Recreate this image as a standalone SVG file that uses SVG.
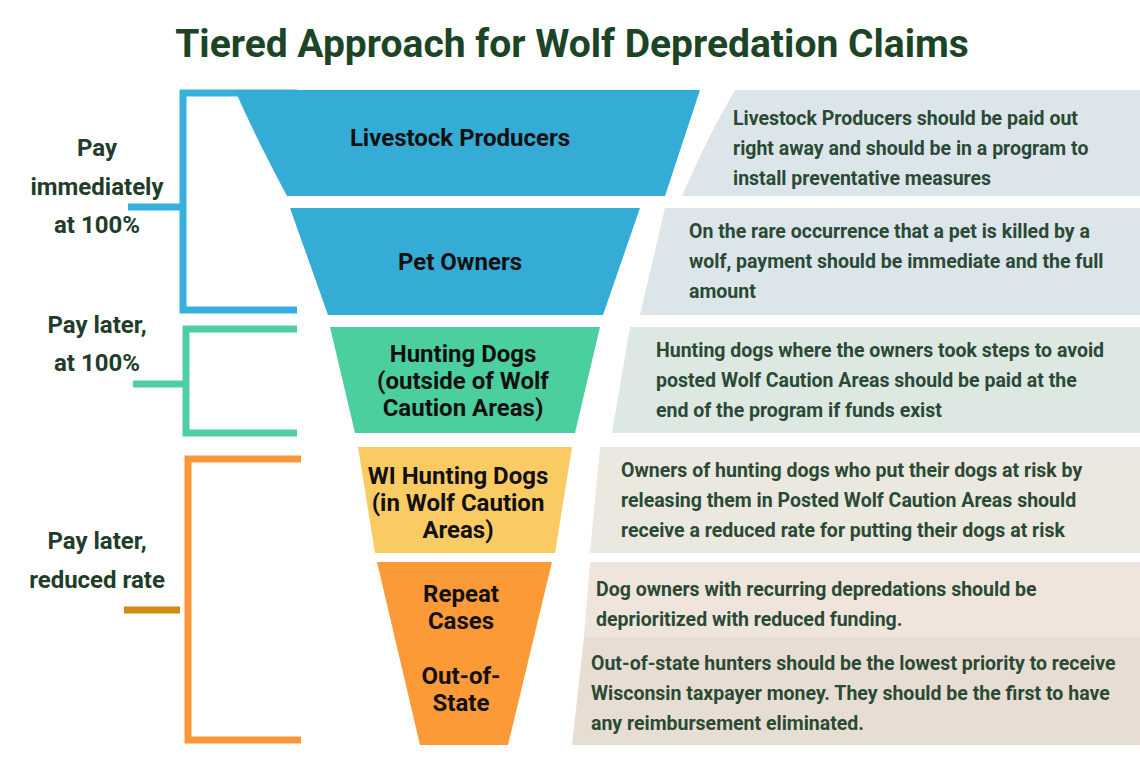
<svg xmlns="http://www.w3.org/2000/svg" width="1140" height="760" viewBox="0 0 1140 760">
<style>
.t{font-family:Roboto,"Liberation Sans",sans-serif;font-weight:700}
.title{font-size:39px;fill:#1b4526}
.lab{font-size:24px;fill:#1f3d2a;text-anchor:middle}
.fl{font-size:24px;fill:#111;text-anchor:middle}
.d{font-size:19.5px;fill:#2a4a35}
.br{fill:none;stroke-width:7}
</style>
<rect width="1140" height="760" fill="#fff"/>
<text class="t title" x="572" y="57" text-anchor="middle">Tiered Approach for Wolf Depredation Claims</text>
<g id="connectors">
<path class="br" stroke="#36b0dc" d="M297,93 H183 V310 H297 M128,207 H183"/>
<path class="br" stroke="#4dcfa1" d="M297,329 H186 V433 H297 M133,384 H186"/>
<path class="br" stroke="#fb9638" d="M301,459 H188 V740 H301"/>
<path class="br" stroke="#d08a10" d="M124,610 H180"/>
</g>
<g id="labels">
<text class="t lab" x="97" y="156">Pay</text>
<text class="t lab" x="97" y="195">immediately</text>
<text class="t lab" x="97" y="233">at 100%</text>
<text class="t lab" x="97" y="333">Pay later,</text>
<text class="t lab" x="97" y="371">at 100%</text>
<text class="t lab" x="97" y="549">Pay later,</text>
<text class="t lab" x="97" y="588">reduced rate</text>
</g>
<g id="livestock">
<path d="M235,90 H700 L665,196 H287 Q252,130 235,90 Z" fill="#35acd6"/>
<text class="t fl" x="460" y="146">Livestock Producers</text>
<path d="M735,90 H1140 V196 H682 Q711,130 735,90 Z" fill="#dce6ea"/>
<text class="t d" x="733" y="125">Livestock Producers should be paid out</text>
<text class="t d" x="733" y="155">right away and should be in a program to</text>
<text class="t d" x="733" y="185">install preventative measures</text>
</g>
<g id="pet">
<path d="M290,208 H640 L603,315 H328 Z" fill="#35acd6"/>
<text class="t fl" x="460" y="270">Pet Owners</text>
<path d="M665,208 H1140 V315 H640 Z" fill="#dce6ea"/>
<text class="t d" x="689" y="238">On the rare occurrence that a pet is killed by a</text>
<text class="t d" x="689" y="268">wolf, payment should be immediate and the full</text>
<text class="t d" x="689" y="298">amount</text>
</g>
<g id="hunting">
<path d="M330,327 H600 L575,433 H355 Z" fill="#4ccf9f"/>
<text class="t fl" x="463" y="362">Hunting Dogs</text>
<text class="t fl" x="463" y="389">(outside of Wolf</text>
<text class="t fl" x="463" y="416">Caution Areas)</text>
<path d="M630,327 H1140 V433 H612 Z" fill="#dde8e2"/>
<text class="t d" x="656" y="357">Hunting dogs where the owners took steps to avoid</text>
<text class="t d" x="656" y="387">posted Wolf Caution Areas should be paid at the</text>
<text class="t d" x="656" y="417">end of the program if funds exist</text>
</g>
<g id="wi">
<path d="M358,447 H572 L555,553 H375 Z" fill="#fbcb63"/>
<text class="t fl" x="458" y="484">WI Hunting Dogs</text>
<text class="t fl" x="458" y="511">(in Wolf Caution</text>
<text class="t fl" x="458" y="538">Areas)</text>
<path d="M600,447 H1140 V553 H590 Z" fill="#ebe8df"/>
<text class="t d" x="621" y="477">Owners of hunting dogs who put their dogs at risk by</text>
<text class="t d" x="621" y="507">releasing them in Posted Wolf Caution Areas should</text>
<text class="t d" x="621" y="537">receive a reduced rate for putting their dogs at risk</text>
</g>
<g id="repeat">
<path d="M377,562 H552 L508,745 H420 Z" fill="#fb9a36"/>
<text class="t fl" x="461" y="602">Repeat</text>
<text class="t fl" x="461" y="629">Cases</text>
<text class="t fl" x="461" y="684">Out-of-</text>
<text class="t fl" x="461" y="711">State</text>
<path d="M590,562 H1140 V637 H584 Z" fill="#efe5dc"/>
<text class="t d" x="596" y="596">Dog owners with recurring depredations should be</text>
<text class="t d" x="596" y="626">deprioritized with reduced funding.</text>
</g>
<g id="outofstate">
<path d="M584,637 H1140 V745 H572 Z" fill="#e8ddd3"/>
<text class="t d" x="591" y="670">Out-of-state hunters should be the lowest priority to receive</text>
<text class="t d" x="591" y="700">Wisconsin taxpayer money. They should be the first to have</text>
<text class="t d" x="591" y="730">any reimbursement eliminated.</text>
</g>
</svg>
